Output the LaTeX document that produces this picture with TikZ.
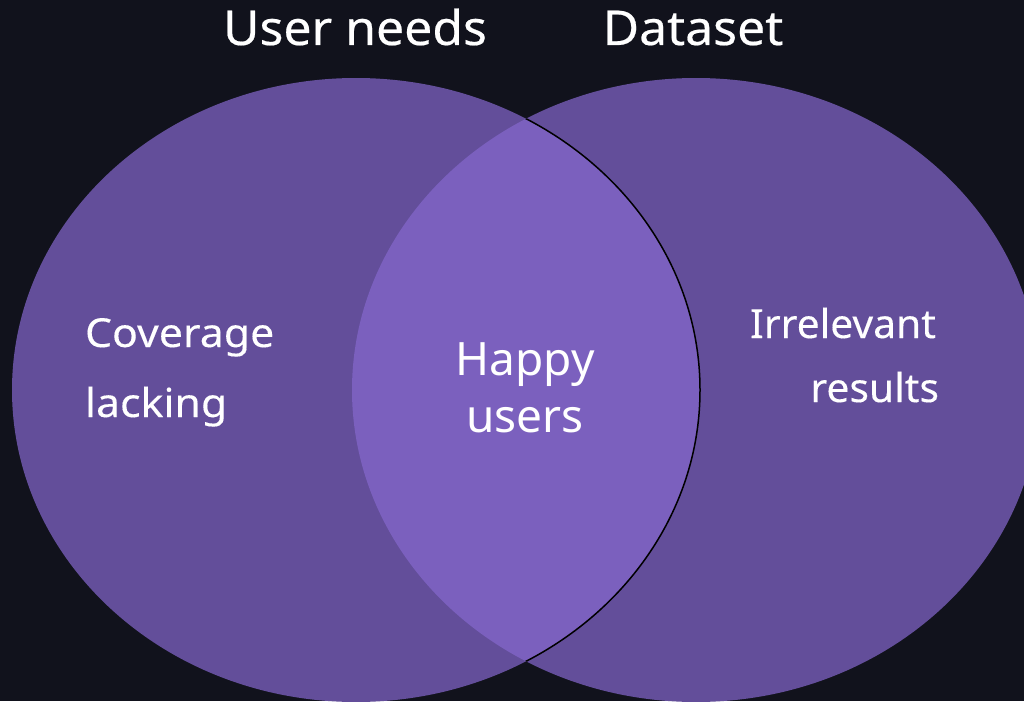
\documentclass[tikz,border=0pt]{standalone}
\usepackage{fontspec}
\setmainfont{Noto Sans}
\newfontfamily\titlefont[FakeStretch=1.04,FakeBold=0.4]{Noto Sans}
\newfontfamily\leftfont[FakeStretch=1.07,FakeBold=0.2]{Noto Sans}
\newfontfamily\rightfont[FakeStretch=1.02,FakeBold=0.2]{Noto Sans}
\definecolor{bg}{HTML}{11121C}
\definecolor{setfill}{HTML}{634E9A}
\definecolor{lensfill}{HTML}{7B60BE}
\begin{document}
\begin{tikzpicture}[x=1pt,y=-1pt,
  lbl/.style={text=white,inner sep=0pt,outer sep=0pt},
  title/.style={lbl,font=\titlefont\fontsize{48}{48}\selectfont},
  lside/.style={lbl,font=\leftfont\fontsize{40}{40}\selectfont},
  rside/.style={lbl,font=\rightfont\fontsize{40}{40}\selectfont},
  mid/.style={lbl,font=\fontsize{46}{46}\selectfont}]
\fill[bg] (0,0) rectangle (1024,701);
\useasboundingbox (0,0) rectangle (1024,701);
\clip (0,0) rectangle (1024,701);
% sets
\fill[setfill] (356,390) ellipse [x radius=344, y radius=312];
\fill[setfill] (696,390) ellipse [x radius=344, y radius=312];
\begin{scope}
  \clip (696,390) ellipse [x radius=344, y radius=312];
  \fill[lensfill] (356,390) ellipse [x radius=344, y radius=312];
  \draw[black,line width=1.5pt] (356,390) ellipse [x radius=344, y radius=312];
\end{scope}
% titles
\node[title,anchor=base] (tuser) at (355,45) {User needs};
\node[title,anchor=base] (tdata) at (693,45) {Dataset};
% labels
\node[lside,anchor=base west] (cov1) at (85,347) {Coverage};
\node[lside,anchor=base west] (cov2) at (85,417) {lacking};
\node[mid,anchor=base] (hap1) at (525,375) {Happy};
\node[mid,anchor=base] (hap2) at (525,432) {users};
\node[rside,anchor=base east] (irr1) at (936,338) {Irrelevant};
\node[rside,anchor=base east] (irr2) at (939,402) {results};
\end{tikzpicture}
\end{document}
